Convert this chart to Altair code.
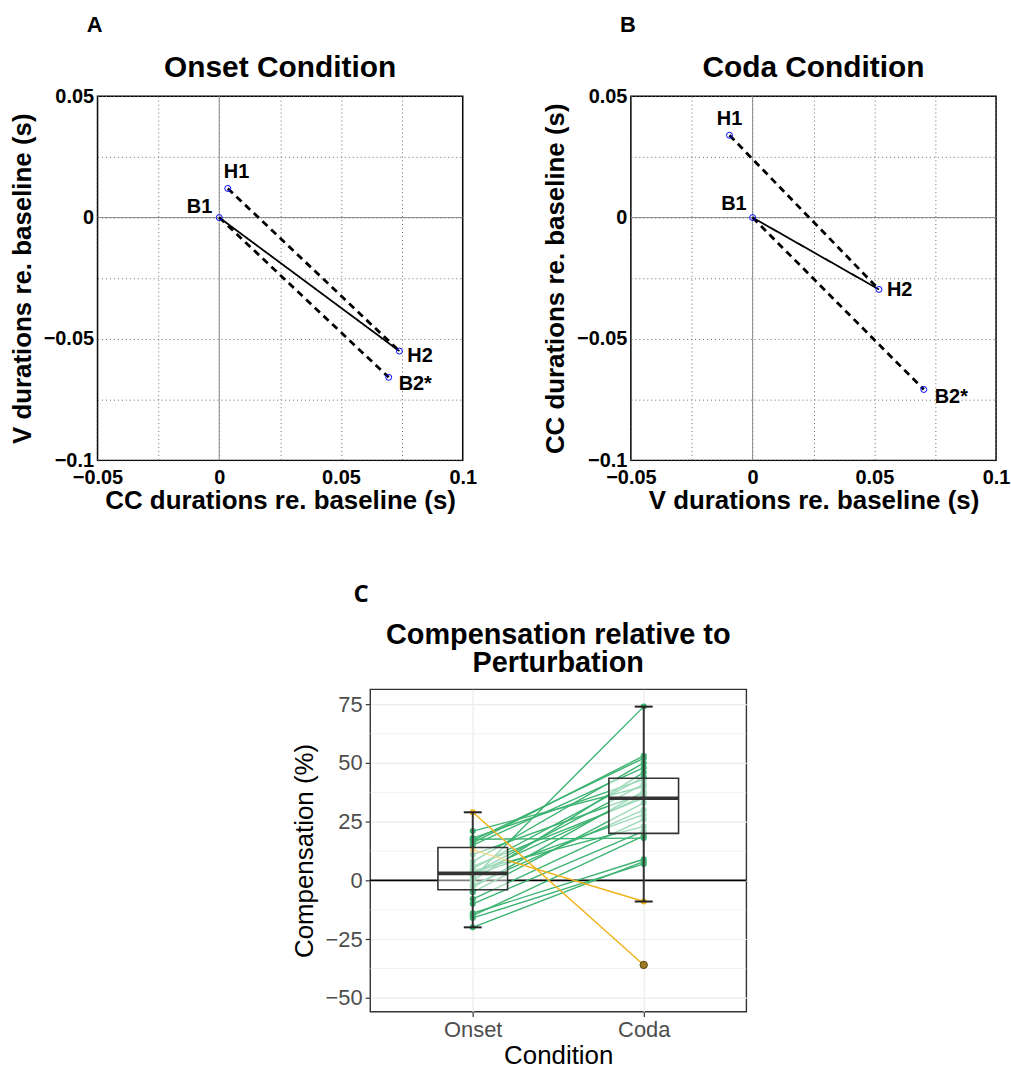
import altair as alt
import pandas as pd
import numpy as np

FONT = "Liberation Sans"

# ---------------- Panel A / B data ----------------
point_names = ["B1", "H1", "H2", "B2*"]
a_x = [0.0, 0.0035, 0.074, 0.0696]
a_y = [0.0, 0.012, -0.055, -0.0658]
b_x = [0.0, -0.0095, 0.0519, 0.0703]
b_y = [0.0, 0.0339, -0.0296, -0.0708]
segments = [("B1", "H2", "solid"), ("H1", "H2", "dashed"), ("B1", "B2*", "dashed")]
grid_ticks_x = [-0.05, -0.025, 0.0, 0.025, 0.05, 0.075, 0.1]
grid_ticks_y = [-0.1, -0.075, -0.05, -0.025, 0.0, 0.025, 0.05]

# label placement styles (dx, dy, align)
a_label_style = {"B1": (-7, -11, "right"), "H1": (-4, -16, "left"),
                 "H2": (8, 5, "left"), "B2*": (10, 7, "left")}
b_label_style = {"B1": (-6, -14, "right"), "H1": (0, -16, "center"),
                 "H2": (8, 1, "left"), "B2*": (11, 8, "left")}

# ---------------- Panel C data ----------------
conditions = ["Onset", "Coda"]
onset_vals = [-20, -16, -15, -14, -10, -8, -5, -3, -2, 0, 1, 2, 2.5, 3, 4, 5, 6, 8,
              11, 15, 16, 17, 17.5, 18, 21, 29, 13]
coda_vals = [8, 7, 19, 9, 21, 26, 33, 38, 30, 46, 74, 28, 36, 41, 23, 44, 35, 50,
             37, 48, 53, 52, 18, 43, 40, -36, -9]
groups = ["green"] * 25 + ["orange"] * 2
major_ticks = [-50, -25, 0, 25, 50, 75]
minor_ticks = [-37.5, -12.5, 12.5, 37.5, 62.5]
c_title = "Compensation relative to\nPerturbation"


def scatter_panel(xs, ys, title, letter, xtitle, ytitle, label_style):
    lookup = dict(zip(point_names, zip(xs, ys)))
    rows = []
    for i, (p, q, style) in enumerate(segments):
        for j, n in enumerate((p, q)):
            rows.append({"seg": i, "style": style, "ord": j,
                         "x": lookup[n][0], "y": lookup[n][1]})
    seg = pd.DataFrame(rows)
    pts = pd.DataFrame({"name": point_names, "x": xs, "y": ys})

    lab_expr = ("abs(round(datum.value*40)) % 2 == 0 ? "
                "replace(format(datum.value, '~g'), '-', '\u2212') : ''")
    common_axis = dict(grid=True, gridDash=[1, 3], gridColor="#6f6f6f", gridWidth=1,
                       ticks=False, domain=False, labelFont=FONT,
                       labelFontWeight="bold", labelFontSize=20, labelColor="black",
                       labelFlush=False, labelOverlap=False, labelExpr=lab_expr,
                       titleFont=FONT, titleFontSize=26, titleFontWeight="bold",
                       titleColor="black")
    xaxis = alt.Axis(values=grid_ticks_x, title=xtitle, labelPadding=7,
                     titlePadding=0, **common_axis)
    yaxis = alt.Axis(values=grid_ticks_y, title=ytitle, labelPadding=4,
                     titlePadding=8, **common_axis)
    xs_ = alt.Scale(domain=[-0.05, 0.1], nice=False, zero=False)
    ys_ = alt.Scale(domain=[-0.1, 0.05], nice=False, zero=False)

    def X(f):
        return alt.X(f"{f}:Q", scale=xs_, axis=xaxis)

    def Y(f):
        return alt.Y(f"{f}:Q", scale=ys_, axis=yaxis)

    zero = pd.DataFrame({"x": [0.0], "y": [0.0]})
    zx = alt.Chart(zero).mark_rule(color="#8a8a8a", strokeWidth=1).encode(x=X("x"))
    zy = alt.Chart(zero).mark_rule(color="#8a8a8a", strokeWidth=1).encode(y=Y("y"))

    lines = alt.Chart(seg).mark_line(color="black").encode(
        x=X("x"), y=Y("y"), detail="seg:N", order="ord:Q",
        strokeDash=alt.StrokeDash("style:N", scale=alt.Scale(
            domain=["solid", "dashed"], range=[[1, 0], [7, 5]]), legend=None),
        strokeWidth=alt.StrokeWidth("style:N", scale=alt.Scale(
            domain=["solid", "dashed"], range=[1.8, 2.8]), legend=None),
    )
    circles = alt.Chart(pts).mark_point(shape="circle", filled=False, color="#0000ff",
                                        size=36, strokeWidth=1, opacity=1).encode(
        x=X("x"), y=Y("y"))
    labels = []
    for n in point_names:
        dx, dy, al = label_style[n]
        labels.append(
            alt.Chart(pts[pts["name"] == n]).mark_text(
                font=FONT, fontWeight="bold", fontSize=20, color="black",
                align=al, baseline="middle", dx=dx, dy=dy).encode(
                x=X("x"), y=Y("y"), text="name:N"))
    heads = pd.DataFrame({"t": [letter, title]})
    let = alt.Chart(heads.iloc[[0]]).mark_text(
        font=FONT, fontWeight="bold", fontSize=22, color="black",
        align="center", baseline="alphabetic").encode(
        x=alt.value(-3), y=alt.value(-64), text="t:N")
    ttl = alt.Chart(heads.iloc[[1]]).mark_text(
        font=FONT, fontWeight="bold", fontSize=30, color="black",
        align="center", baseline="alphabetic").encode(
        x=alt.value(183.5), y=alt.value(-19), text="t:N")

    return alt.layer(zx, zy, lines, circles, *labels, let, ttl).properties(
        width=367, height=366,
        view=alt.ViewBackground(stroke="black", strokeWidth=1.5),
    )


panel_a = scatter_panel(a_x, a_y, "Onset Condition", "A",
                        "CC durations re. baseline (s)", "V durations re. baseline (s)",
                        a_label_style)
panel_b = scatter_panel(b_x, b_y, "Coda Condition", "B",
                        "V durations re. baseline (s)", "CC durations re. baseline (s)",
                        b_label_style)

# ---------------- Panel C ----------------
n = len(onset_vals)
long = pd.DataFrame({
    "subject": list(range(n)) * 2,
    "cond": ["Onset"] * n + ["Coda"] * n,
    "value": onset_vals + coda_vals,
    "grp": groups * 2,
})

stats_rows = []
out_rows = []
for c, vals in zip(conditions, [onset_vals, coda_vals]):
    v = np.array(vals, dtype=float)
    q1, med, q3 = np.percentile(v, [25, 50, 75])
    iqr = q3 - q1
    inside = v[(v >= q1 - 1.5 * iqr) & (v <= q3 + 1.5 * iqr)]
    stats_rows.append({"cond": c, "q1": q1, "med": med, "q3": q3,
                       "lo": inside.min(), "hi": inside.max()})
    for o in v[(v < q1 - 1.5 * iqr) | (v > q3 + 1.5 * iqr)]:
        out_rows.append({"cond": c, "value": o})
stats = pd.DataFrame(stats_rows)
outl = pd.DataFrame(out_rows)

cx_axis = alt.Axis(title="Condition", labelAngle=0, grid=True, gridColor="#ebebeb",
                   gridWidth=1.2, domain=False, tickColor="#333333", tickSize=5,
                   tickWidth=1.2, labelFont=FONT, labelFontSize=22,
                   labelColor="#4d4d4d", labelPadding=3, titleFont=FONT,
                   titleFontSize=26, titleFontWeight="normal", titleColor="black",
                   titlePadding=2)
cy_axis = alt.Axis(values=major_ticks, title="Compensation (%)", grid=True,
                   gridColor="#ebebeb", gridWidth=1.2, domain=False,
                   tickColor="#333333", tickSize=5, tickWidth=1.2, labelFont=FONT,
                   labelFontSize=22, labelColor="#4d4d4d", labelPadding=3,
                   titleFont=FONT, titleFontSize=26, titleFontWeight="normal",
                   titleColor="black", titlePadding=8)
cx_scale = alt.Scale(type="point", padding=0.6, domain=conditions)
cy_scale = alt.Scale(domain=[-55.9, 81.4], nice=False, zero=False)


def CX(f="cond"):
    return alt.X(f"{f}:N", scale=cx_scale, axis=cx_axis, sort=conditions)


def CY(f):
    return alt.Y(f"{f}:Q", scale=cy_scale, axis=cy_axis)


color_scale = alt.Scale(domain=["green", "orange"], range=["#3cb371", "#f0b21c"])

minor = alt.Chart(pd.DataFrame({"v": minor_ticks})).mark_rule(
    color="#ebebeb", strokeWidth=0.7).encode(y=CY("v"))
hline = alt.Chart(pd.DataFrame({"v": [0]})).mark_rule(
    color="black", strokeWidth=1.6).encode(y=CY("v"))
plines = alt.Chart(long).mark_line(strokeWidth=1.4).encode(
    x=CX(), y=CY("value"), detail="subject:N",
    color=alt.Color("grp:N", scale=color_scale, legend=None))
ppoints = alt.Chart(long).mark_circle(size=38, opacity=1).encode(
    x=CX(), y=CY("value"),
    color=alt.Color("grp:N", scale=color_scale, legend=None))
box = alt.Chart(stats).mark_bar(size=70, fill="white", fillOpacity=0.5,
                                stroke="#333333", strokeWidth=1.6).encode(
    x=CX(), y=CY("q1"), y2="q3:Q")
median = alt.Chart(stats).mark_tick(size=70, thickness=3.6, color="#333333",
                                    opacity=1, orient="horizontal").encode(
    x=CX(), y=CY("med"))
whisk = alt.Chart(stats).mark_rule(color="#333333", strokeWidth=2).encode(
    x=CX(), y=CY("lo"), y2="hi:Q")
cap_lo = alt.Chart(stats).mark_tick(size=18, thickness=2, color="#222222",
                                    opacity=1, orient="horizontal").encode(
    x=CX(), y=CY("lo"))
cap_hi = alt.Chart(stats).mark_tick(size=18, thickness=2, color="#222222",
                                    opacity=1, orient="horizontal").encode(
    x=CX(), y=CY("hi"))
outp = alt.Chart(outl).mark_circle(size=55, color="#9b7a22", stroke="#5a4818",
                                   strokeWidth=1, opacity=1).encode(
    x=CX(), y=CY("value"))
c_heads = pd.DataFrame({"t": ["C", c_title]})
letter_c = alt.Chart(c_heads.iloc[[0]]).mark_text(
    font="Open Sans", fontWeight="bold", fontSize=24, color="black",
    align="center", baseline="alphabetic").encode(
    x=alt.value(-9), y=alt.value(-88), text="t:N")
title_c = alt.Chart(c_heads.iloc[[1]]).mark_text(
    font=FONT, fontWeight="bold", fontSize=29, lineHeight=28, lineBreak="\n",
    color="black", align="center", baseline="alphabetic").encode(
    x=alt.value(189), y=alt.value(-45), text="t:N")

panel_c = alt.layer(minor, hline, plines, ppoints, box, median, whisk, cap_lo,
                    cap_hi, outp, letter_c, title_c).properties(
    width=378, height=324,
    view=alt.ViewBackground(stroke="#333333", strokeWidth=1.4),
)

spacer = alt.Chart(pd.DataFrame({"a": [0]})).mark_point(opacity=0).properties(
    width=193, height=10, view=alt.ViewBackground(stroke=None))

top = alt.hconcat(panel_a, panel_b, spacing=64)
bottom = alt.hconcat(spacer, panel_c, spacing=0)
chart = alt.vconcat(top, bottom, spacing=68).properties(
    padding={"left": 8, "top": 11, "right": 0, "bottom": 0}
).configure_view(stroke=None)

chart.save("out.html", embed_options={"renderer": "svg", "actions": False})
